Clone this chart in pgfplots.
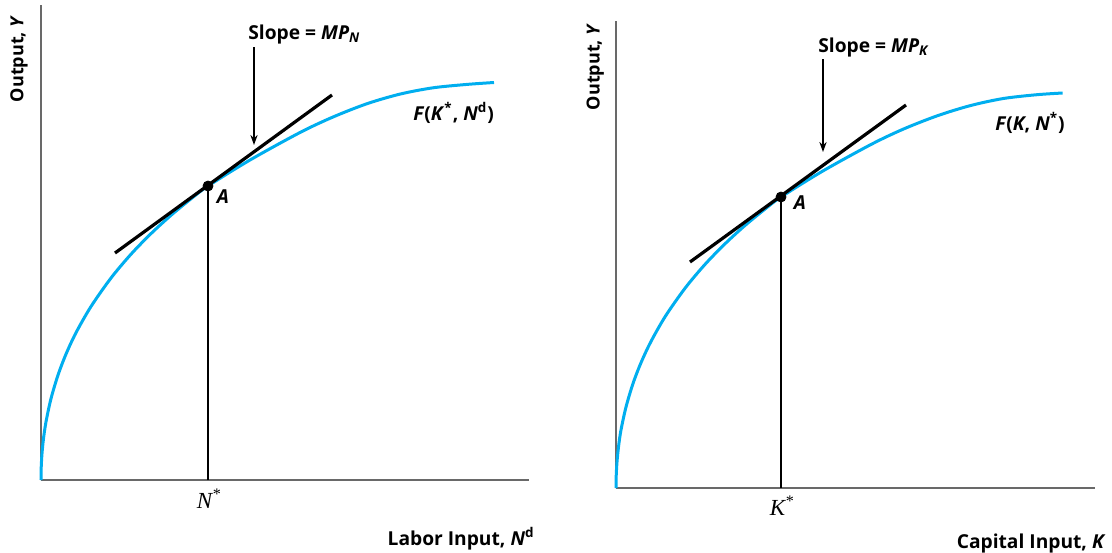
\documentclass[border=0pt]{standalone}
\usepackage{fontspec}
\setmainfont{Open Sans}
\newfontfamily\serifit{Liberation Serif}
\usepackage{pgfplots}
\pgfplotsset{compat=1.18}
\usetikzlibrary{arrows.meta}
\definecolor{curveblue}{RGB}{0,174,239}
\definecolor{axisgray}{RGB}{105,105,105}
\newcommand\lab{\fontsize{9.6pt}{11pt}\selectfont\bfseries}
\newcommand\ylab{\fontsize{9pt}{11pt}\selectfont\bfseries}
\newcommand\tk{\fontsize{11.5pt}{13pt}\selectfont\serifit\itshape}
\pgfplotsset{
  prodaxis/.style={
    x=0.5pt, y=0.5pt, xmin=0, ymin=0,
    axis lines=left,
    axis line style={-, draw=axisgray, line width=0.9pt},
    xtick=\empty, ytick=\empty,
    clip=false,
  },
}
\begin{document}
\begin{tikzpicture}
\useasboundingbox (0,0) rectangle (556pt,-276pt);
% ---------- left panel ----------
\begin{axis}[prodaxis, at={(20.5pt,-240pt)}, anchor=south west, xmax=488, ymax=475]
\addplot[curveblue, line width=1.5pt, smooth, tension=0.5] coordinates {
(0,0)(0.25,13.3)(1,26.4)(2.5,41.5)(5,58.2)(10,81.4)(17,104.9)(25,125.9)(35,147.3)(50,173.5)(70,202)(90,225.8)(110,246.4)(130,264.7)(150,281.2)(167,294)(209,320)(259,347.5)(292,363)(326,376.3)(359,385.9)(392,392.2)(426,395.6)(453,397.5)};
\addplot[black, line width=1pt] coordinates {(167,0)(167,294)};
\addplot[black, line width=1.6pt] coordinates {(74,227)(291,385)};
\addplot[black, only marks, mark=*, mark size=2.5pt] coordinates {(167,294)};
\draw[black, line width=0.75pt, -{Stealth[length=5pt,width=3.6pt]}] (axis cs:213,433) -- (axis cs:213,335);
\node[font=\lab, anchor=base west, inner sep=0pt] at (axis cs:207,441) {Slope = \textit{MP}\textsubscript{\textit{N}}};
\node[font=\lab, anchor=base west, inner sep=0pt] at (axis cs:372,360) {\textit{F}(\textit{K}\textsuperscript{*}, \textit{N}\textsuperscript{d})};
\node[font=\lab\itshape, inner sep=0pt] at (axis cs:182,283) {A};
\node[font=\tk, anchor=base, inner sep=0pt] at (axis cs:168,-28) {N\textsuperscript{*}};
\node[font=\lab, anchor=base east, inner sep=0pt] at (axis cs:494,-65) {Labor Input, \textit{N}\textsuperscript{d}};
\node[font=\ylab, rotate=90, anchor=base east, inner sep=0pt] at (axis cs:-17.7,465) {Output, \textit{Y}};
\end{axis}
% ---------- right panel ----------
\begin{axis}[prodaxis, at={(308pt,-244pt)}, anchor=south west, xmax=479, ymax=467]
\addplot[curveblue, line width=1.5pt, smooth, tension=0.5] coordinates {
(0,0)(0.25,13.2)(1,26.1)(2.5,41.1)(4.9,57.6)(9.9,80.6)(16.8,103.9)(24.7,124.6)(34.6,145.8)(49.4,171.8)(69.2,200)(88.9,223.5)(108.7,243.9)(128.4,262)(148.2,278.3)(165,291)(206.5,316.8)(255.9,344)(288.5,359.4)(322.1,372.5)(354.7,382.5)(387.3,389.5)(420.9,393.3)(446.6,395)};
\addplot[black, line width=1pt] coordinates {(165,0)(165,291)};
\addplot[black, line width=1.6pt] coordinates {(74,226)(290,383)};
\addplot[black, only marks, mark=*, mark size=2.5pt] coordinates {(165,291)};
\draw[black, line width=0.75pt, -{Stealth[length=5pt,width=3.6pt]}] (axis cs:207,429) -- (axis cs:207,336);
\node[font=\lab, anchor=base west, inner sep=0pt] at (axis cs:202,436) {Slope = \textit{MP}\textsubscript{\textit{K}}};
\node[font=\lab, anchor=base west, inner sep=0pt] at (axis cs:379,358) {\textit{F}(\textit{K}, \textit{N}\textsuperscript{*})};
\node[font=\lab\itshape, inner sep=0pt] at (axis cs:184,285) {A};
\node[font=\tk, anchor=base, inner sep=0pt] at (axis cs:166,-27) {K\textsuperscript{*}};
\node[font=\lab, anchor=base east, inner sep=0pt] at (axis cs:490,-60) {Capital Input, \textit{K}};
\node[font=\ylab, rotate=90, anchor=base east, inner sep=0pt] at (axis cs:-16.4,465) {Output, \textit{Y}};
\end{axis}
\end{tikzpicture}
\end{document}
